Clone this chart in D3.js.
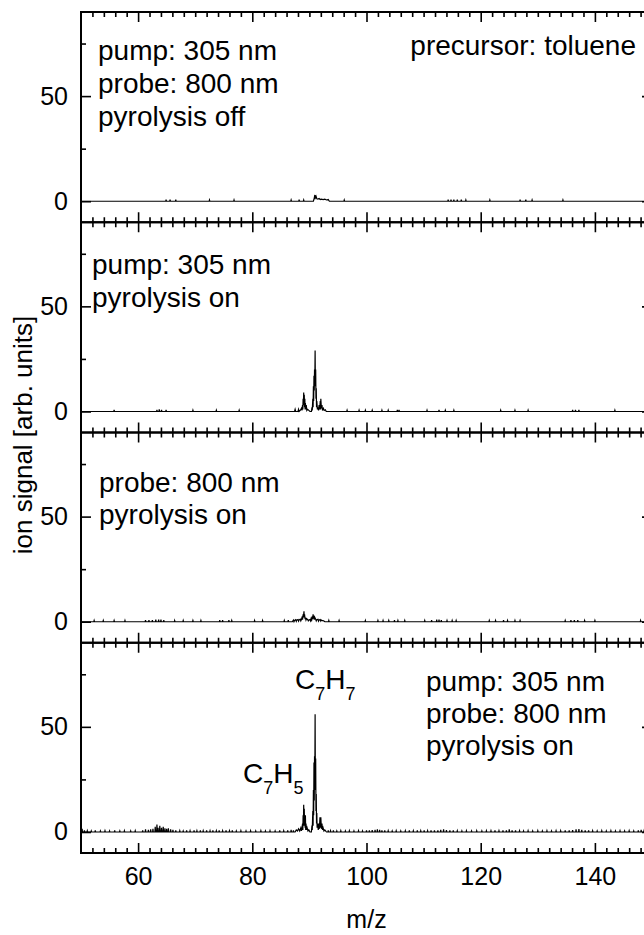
<!DOCTYPE html>
<html>
<head>
<meta charset="utf-8">
<script src="https://cdn.jsdelivr.net/npm/d3@7/dist/d3.min.js"></script>
<style>
  body { margin: 0; background: #fff; }
  text { font-family: "Liberation Sans", Arial, sans-serif; fill: #000; }
</style>
</head>
<body>
<svg id="chart" width="644" height="935"></svg>
<script>
// tick values
const xMajor = [60, 80, 100, 120, 140];
const xMinor = d3.range(52, 150, 2).filter(v => v % 20 !== 0);
const yMajor = [0, 50];
const yMinor = [25, 75];

// peak regions, [m/z, signal]
const peaks1 = [[90.7,0],[90.85,1.5],[90.95,3],[91.0,1],[91.05,2],[91.15,2.5],[91.3,1.2],[91.5,1],[91.7,1.3],[91.9,0.8],[92.1,1],[92.4,0.8],[92.7,1],[93.0,0.6],[93.3,0.8],[93.5,0]];
const peaks2 = [[87.4,0],[87.5,1],[87.6,0],[88.0,0],[88.1,1],[88.2,0],[88.4,0.5],[88.6,1.5],[88.7,0.5],[88.8,3],[88.85,1],[88.9,6],[88.95,3],[89.0,9],[89.05,4],[89.1,8],[89.15,2],[89.2,6],[89.25,1],[89.3,4],[89.35,1],[89.45,3],[89.55,0.5],[89.7,1],[89.9,0.5],[90.1,0],[90.35,0],[90.45,2],[90.5,0.5],[90.6,6],[90.65,2],[90.7,12],[90.75,5],[90.8,17],[90.85,10],[90.9,20],[90.95,14],[91.0,29],[91.05,12],[91.1,20],[91.15,6],[91.2,11],[91.25,2],[91.3,5],[91.4,1],[91.5,2],[91.6,0.5],[91.7,3],[91.8,1],[91.9,5],[91.95,1],[92.0,6],[92.1,1.5],[92.2,3],[92.3,0.5],[92.45,1.5],[92.6,0.5],[92.8,0.8],[92.95,0]];
const peaks3 = [[87.0,0],[87.2,0.8],[87.3,0],[87.4,0.6],[87.6,1],[87.7,0.2],[87.8,0.8],[88.0,1],[88.1,0.3],[88.2,0.9],[88.4,1.2],[88.5,0.4],[88.6,1],[88.75,2.5],[88.8,1],[88.9,3.5],[88.95,2],[89.05,5],[89.1,2],[89.15,3.5],[89.25,1.2],[89.3,2],[89.4,0.8],[89.5,1.5],[89.7,1],[89.8,0.4],[89.9,0.8],[90.1,1],[90.2,0.4],[90.3,1.5],[90.4,0.8],[90.5,2.5],[90.55,1.2],[90.65,3.5],[90.7,1.5],[90.8,3],[90.85,1],[90.95,2],[91.1,1.2],[91.2,0.4],[91.3,1],[91.5,1.2],[91.6,0.3],[91.7,0.8],[91.9,1],[92.0,0.3],[92.1,0.8],[92.3,0.5],[92.5,0.4],[92.7,0]];
const peaks4 = [[87.5,0],[87.7,1],[87.9,0.5],[88.1,1.5],[88.3,0.5],[88.5,2],[88.6,0.5],[88.7,1.5],[88.8,4],[88.85,1],[88.9,8],[88.95,3],[89.0,13],[89.05,5],[89.1,11],[89.15,3],[89.2,7],[89.25,2],[89.3,8],[89.35,1],[89.4,4],[89.5,1],[89.6,2],[89.75,0.5],[89.9,1],[90.1,0],[90.35,0],[90.45,3],[90.5,1],[90.6,10],[90.65,3],[90.7,20],[90.75,8],[90.8,33],[90.85,15],[90.9,36],[90.95,25],[91.0,56],[91.05,20],[91.1,35],[91.15,10],[91.2,18],[91.25,4],[91.3,9],[91.35,2],[91.45,4],[91.55,1],[91.65,4],[91.75,1.5],[91.85,7],[91.9,2],[92.0,7],[92.1,1.5],[92.2,4],[92.3,1],[92.4,2],[92.55,0.5],[92.7,1],[92.9,0.3],[93.0,0]];

// small spikes on the baseline, [m/z, signal]
const noise1 = [[64.9,0.8],[65.6,0.8],[66.6,0.8],[72.5,0.6],[76.8,0.6],[86.8,0.6],[88.2,0.8],[89.0,0.6],[96.1,0.6],[114.3,0.8],[114.8,0.8],[115.3,0.8],[115.9,0.8],[116.6,0.8],[117.4,0.6],[121.6,0.6],[126.9,0.8],[127.9,0.8],[129.0,0.6],[134.4,0.6]];
const noise2 = [[55.8,0.8],[63.3,0.8],[63.7,1],[64.1,0.8],[64.9,0.8],[69.6,0.6],[73.7,0.6],[77.7,0.6],[96.6,0.6],[98.7,0.6],[99.8,0.6],[101.0,0.6],[102.7,0.6],[103.8,0.6],[105.4,0.8],[105.7,0.8],[110.6,0.6],[112.7,0.8],[113.8,0.6],[115.3,0.6],[123.5,0.6],[126.0,0.6],[128.3,0.6],[136.1,0.8],[136.6,0.8],[137.2,0.8],[143.5,0.6]];
const noise3 = [[52.3,0.6],[53.9,0.6],[55.8,0.6],[57.7,0.6],[61.3,0.8],[61.9,0.8],[62.5,0.8],[63.1,1],[63.6,1],[64.0,1],[64.5,0.8],[66.4,0.6],[67.9,0.6],[69.6,0.6],[71.0,0.6],[74.3,0.8],[74.8,0.8],[75.9,0.8],[76.4,0.6],[80.4,0.6],[81.8,0.6],[85.6,0.6],[86.3,0.8],[93.4,0.6],[95.2,0.6],[99.8,0.6],[102.0,0.6],[102.9,0.6],[103.9,0.6],[104.9,0.8],[105.5,0.6],[106.7,0.6],[110.2,0.6],[111.4,0.8],[112.3,1],[112.7,1],[113.1,0.8],[114.1,0.6],[115.0,0.6],[115.7,0.6],[121.5,0.6],[122.6,0.6],[124.0,0.8],[124.7,0.6],[126.0,0.6],[126.9,0.6],[134.8,0.6],[135.8,0.8],[136.4,0.8],[137.0,0.8],[138.2,0.6],[140.0,0.6],[148.0,0.6]];
const noise4 = [[50.2,1.5],[50.6,0.8],[51.1,0.6],[51.8,0.5],[52.5,0.7],[53.4,0.5],[54.2,0.6],[55.0,0.5],[55.9,0.7],[56.8,0.5],[57.6,0.6],[58.7,0.5],[59.5,0.6],[60.8,0.8],[61.3,1.2],[61.8,1],[62.2,1.3],[62.6,1.5],[63.0,2.5],[63.3,3.5],[63.5,2],[63.8,3],[64.1,2],[64.4,2.5],[64.7,1.8],[65.0,1.5],[65.3,1.8],[65.7,1.2],[66.1,1],[66.6,0.8],[67.3,0.6],[67.9,0.5],[68.5,0.7],[69.1,0.6],[69.8,0.7],[70.3,0.6],[70.9,0.7],[71.4,0.6],[72.0,0.7],[72.6,0.6],[73.1,0.8],[73.7,0.6],[74.2,0.7],[74.8,0.6],[75.4,0.8],[76.0,0.6],[76.5,0.7],[77.2,0.5],[78.0,0.6],[78.9,0.5],[79.7,0.6],[80.6,0.5],[81.5,0.6],[82.3,0.5],[83.1,0.6],[84.0,0.5],[84.8,0.7],[85.5,0.6],[86.2,0.8],[86.8,1],[87.2,0.8],
  [93.3,0.8],[93.7,0.6],[94.2,0.7],[94.8,0.5],[95.5,0.6],[96.3,0.5],[97.0,0.6],[97.8,0.5],[98.6,0.6],[99.3,0.5],[100.0,0.7],[100.5,0.8],[101.0,0.9],[101.5,1],[101.9,1.2],[102.3,1],[102.7,0.8],[103.2,0.7],[103.8,0.6],[104.5,0.5],[105.2,0.6],[106.0,0.5],[106.8,0.6],[107.5,0.7],[108.2,0.6],[108.9,0.7],[109.5,0.6],[110.1,0.7],[110.7,0.6],[111.3,0.8],[111.9,0.7],[112.5,0.8],[113.0,1],[113.5,1.2],[114.0,0.9],[114.6,0.8],[115.2,0.7],[115.9,0.6],[116.7,0.5],[117.5,0.6],[118.4,0.5],[119.3,0.6],[120.2,0.5],[121.0,0.6],[121.8,0.6],[122.5,0.7],[123.2,0.6],[123.9,0.7],[124.5,0.8],[125.0,1.2],[125.5,0.8],[126.1,0.7],[126.8,0.6],[127.5,0.5],[128.3,0.6],[129.1,0.5],[130.0,0.6],[130.8,0.5],[131.6,0.6],[132.4,0.5],[133.2,0.6],[134.0,0.6],[134.8,0.7],[135.5,0.8],[136.1,0.9],[136.7,1.2],[137.2,1.4],[137.7,1],[138.3,0.8],[138.9,0.7],[139.6,0.6],[140.4,0.5],[141.2,0.6],[142.0,0.5],[142.8,0.6],[143.6,0.5],[144.4,0.6],[145.2,0.5],[146.0,0.6],[146.8,0.5],[147.6,0.7],[148.1,1],[148.6,0.6],[149.3,0.5]];

const panels = [
  { peaks: peaks1, noise: noise1, lines: ["pump: 305 nm", "probe: 800 nm", "pyrolysis off"], tx: 98, ty: [60, 93, 126] },
  { peaks: peaks2, noise: noise2, lines: ["pump: 305 nm", "pyrolysis on"], tx: 92, ty: [274, 307] },
  { peaks: peaks3, noise: noise3, lines: ["probe: 800 nm", "pyrolysis on"], tx: 99, ty: [492, 524] },
  { peaks: peaks4, noise: noise4, lines: ["pump: 305 nm", "probe: 800 nm", "pyrolysis on"], tx: 426, ty: [691, 723, 755] }
];

const svg = d3.select("#chart");
const plotLeft = 81, plotRight = 652, plotTop = 12, plotBottom = 853;
const ph = (plotBottom - plotTop) / panels.length;

const x = d3.scaleLinear().domain([50, 150]).range([plotLeft, plotRight]);

const tickStyle = sel => {
  sel.select(".domain").remove();
  sel.selectAll(".tick line").attr("stroke", "#000").attr("stroke-width", 1.6);
  sel.selectAll("text").style("font-size", "25px").style("font-family", '"Liberation Sans", Arial, sans-serif');
};

panels.forEach((p, i) => {
  const t = plotTop + i * ph, b = t + ph;
  const y = d3.scaleLinear().domain([-10, 90]).range([b, t]);
  const g = svg.append("g");

  // spectrum
  let pts = p.peaks.slice();
  p.noise.forEach(d => { pts.push([d[0] - 0.06, 0], d, [d[0] + 0.06, 0]); });
  pts.sort((a, c) => a[0] - c[0]);
  pts = [[50, 0]].concat(pts, [[150, 0]]);
  g.append("path")
    .datum(pts)
    .attr("fill", "none")
    .attr("stroke", "#000")
    .attr("stroke-width", 1.2)
    .attr("stroke-linejoin", "miter")
    .attr("d", d3.line().x(d => x(d[0])).y(d => y(d[1])));

  // axes, ticks pointing inward
  g.append("g").attr("transform", `translate(0,${b})`)
    .call(d3.axisBottom(x).tickValues(xMajor).tickSize(-10).tickPadding(14)
      .tickFormat(i === panels.length - 1 ? d3.format("d") : ""))
    .call(tickStyle);
  g.append("g").attr("transform", `translate(0,${b})`)
    .call(d3.axisBottom(x).tickValues(xMinor).tickSize(-5).tickFormat(""))
    .call(tickStyle);
  g.append("g").attr("transform", `translate(0,${t})`)
    .call(d3.axisTop(x).tickValues(xMajor).tickSize(-10).tickFormat(""))
    .call(tickStyle);
  g.append("g").attr("transform", `translate(0,${t})`)
    .call(d3.axisTop(x).tickValues(xMinor).tickSize(-5).tickFormat(""))
    .call(tickStyle);
  g.append("g").attr("transform", `translate(${plotLeft},0)`)
    .call(d3.axisLeft(y).tickValues(yMajor).tickSize(-10).tickPadding(13))
    .call(tickStyle);
  g.append("g").attr("transform", `translate(${plotLeft},0)`)
    .call(d3.axisLeft(y).tickValues(yMinor).tickSize(-5).tickFormat(""))
    .call(tickStyle);
  g.append("g").attr("transform", `translate(${plotRight},0)`)
    .call(d3.axisRight(y).tickValues(yMajor).tickSize(-10).tickFormat(""))
    .call(tickStyle);
  g.append("g").attr("transform", `translate(${plotRight},0)`)
    .call(d3.axisRight(y).tickValues(yMinor).tickSize(-5).tickFormat(""))
    .call(tickStyle);

  g.append("rect")
    .attr("x", plotLeft).attr("y", t).attr("width", plotRight - plotLeft).attr("height", ph)
    .attr("fill", "none").attr("stroke", "#000").attr("stroke-width", 2);

  // annotation
  p.lines.forEach((s, k) => {
    g.append("text").attr("x", p.tx).attr("y", p.ty[k])
      .style("font-size", "28px").text(s);
  });
});

svg.append("text").attr("x", 636).attr("y", 55).attr("text-anchor", "end")
  .style("font-size", "28px").text("precursor: toluene");

// peak labels in the bottom panel
const formula = (xPos, yPos, parts) => {
  const tx = svg.append("text").attr("x", xPos).attr("y", yPos).style("font-size", "28px");
  parts.forEach(([s, sub], k) => {
    tx.append("tspan").text(s).style("font-size", sub ? "18px" : "28px")
      .attr("dy", sub ? 11 : (k === 0 ? 0 : -11));
  });
};
formula(295, 689, [["C", false], ["7", true], ["H", false], ["7", true]]);
formula(243, 783, [["C", false], ["7", true], ["H", false], ["5", true]]);

svg.append("text")
  .attr("transform", `translate(32,${(310 + 560) / 2}) rotate(-90)`)
  .attr("text-anchor", "middle")
  .style("font-size", "26px")
  .text("ion signal [arb. units]");

svg.append("text").attr("x", (plotLeft + plotRight) / 2).attr("y", 928)
  .attr("text-anchor", "middle").style("font-size", "25px").text("m/z");
</script>
</body>
</html>
